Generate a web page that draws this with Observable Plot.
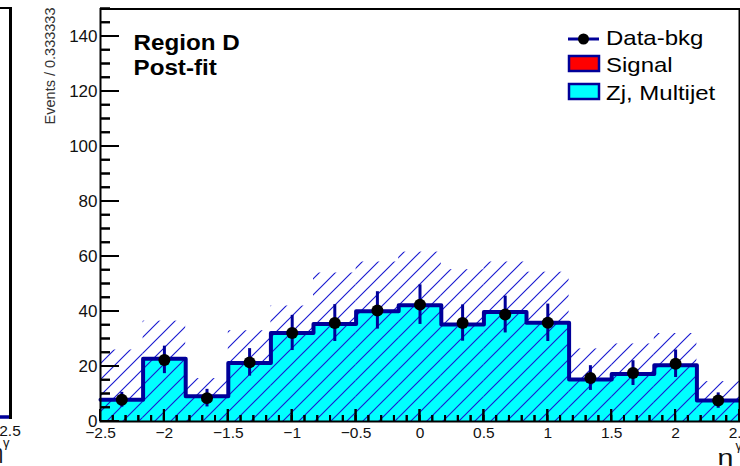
<!DOCTYPE html>
<html>
<head>
<meta charset="utf-8">
<script src="https://cdn.jsdelivr.net/npm/d3@7"></script>
<script src="https://cdn.jsdelivr.net/npm/@observablehq/plot@0.6"></script>
<style>
  html, body { margin: 0; padding: 0; background: #fff; }
  #wrap { position: relative; width: 740px; height: 466px; overflow: hidden; }
  #chart, #overlay { position: absolute; left: 0; top: 0; }
  #overlay { pointer-events: none; }
  text { font-family: "Liberation Sans", Arial, sans-serif; }
</style>
</head>
<body>
<div id="wrap">
  <div id="chart"></div>
  <svg id="overlay" width="740" height="466"></svg>
</div>
<script>
// eta^gamma histogram, 15 bins of width 1/3 between -2.5 and 2.5
const binLow = -2.5;
const binWidth = 1 / 3;

// stacked background (Zj, Multijet) and signal contributions per bin
const zjMultijet = [7.9, 22.8, 9.2, 21.3, 32.2, 35.5, 40.1, 42.3, 35.3, 39.8, 35.9, 15.3, 17.3, 20.5, 7.6];
const signalYield = [0, 0, 0, 0, 0, 0, 0, 0, 0, 0, 0, 0, 0, 0, 0];

// data minus background, with statistical errors
const dataBkg = [7.9, 22.4, 8.5, 21.5, 32.2, 35.8, 40.4, 42.5, 35.8, 38.9, 35.9, 15.8, 17.6, 21.0, 7.6];
const dataErr = [2.7, 5.0, 3.2, 5.0, 6.4, 6.7, 6.8, 7.2, 6.6, 6.7, 6.8, 4.5, 4.5, 5.0, 2.8];

// upper edge of the hatched post-fit uncertainty band
const uncUp = [26.0, 36.5, 15.6, 33.0, 42.0, 54.0, 58.0, 61.6, 55.2, 58.0, 54.3, 26.4, 28.2, 32.0, 14.5];

// axis ticks
const xMajor = [-2.5, -2, -1.5, -1, -0.5, 0, 0.5, 1, 1.5, 2, 2.5];
const xMinor = d3.range(-25, 26).map(i => i / 10);
const yMajor = [0, 20, 40, 60, 80, 100, 120, 140];
const yMinor = d3.range(0, 151, 5);

const legendItems = ["Data-bkg", "Signal", "Zj, Multijet"];

const navy = "#000099";
const W = 740, H = 466, mL = 100, mR = 1, mT = 8.5, mB = 45;
const innerW = W - mL - mR, innerH = H - mT - mB;
const xDom = [-2.5, 2.5], yDom = [0, 150];
// pixel lengths expressed in data units (tick sizes)
const pxX = px => px * (xDom[1] - xDom[0]) / innerW;
const pxY = px => px * (yDom[1] - yDom[0]) / innerH;

const bins = zjMultijet.map((v, i) => ({
  x1: binLow + i * binWidth,
  x2: binLow + (i + 1) * binWidth,
  xc: binLow + (i + 0.5) * binWidth,
  zj: v,
  stack: v + signalYield[i],
  data: dataBkg[i],
  err: dataErr[i],
  up: uncUp[i]
}));
const stepPts = bins.map(b => ({x: b.x1, y: b.stack}));
stepPts.push({x: bins[bins.length - 1].x2, y: bins[bins.length - 1].stack});

const minus = d => (d < 0 ? "\u2212" + Math.abs(d) : String(d));

// inward ticks as thin filled bars
const xTickBars = (vals, len) => Plot.rect(vals, {x1: d => d - pxX(1), x2: d => d + pxX(1), y1: yDom[0], y2: yDom[0] + pxY(len), fill: "black"});
const yTickBars = (vals, len) => Plot.rect(vals, {x1: xDom[0], x2: xDom[0] + pxX(len), y1: d => d - pxY(1), y2: d => d + pxY(1), fill: "black"});

const plot = Plot.plot({
  width: W,
  height: H,
  marginLeft: mL,
  marginRight: mR,
  marginTop: mT,
  marginBottom: mB,
  style: {fontFamily: "'Liberation Sans', Arial, sans-serif", color: "#111", background: "#fff"},
  x: {domain: xDom, axis: null},
  y: {domain: yDom, axis: null},
  marks: [
    Plot.rect(bins, {x1: "x1", x2: "x2", y1: 0, y2: "zj", fill: "#00ffff", shapeRendering: "crispEdges"}),
    Plot.rect(bins, {x1: "x1", x2: "x2", y1: "zj", y2: "stack", fill: "#ff0000"}),
    Plot.rect(bins, {x1: "x1", x2: "x2", y1: 0, y2: "up", fill: "url(#hatch)"}),
    Plot.line(stepPts, {x: "x", y: "y", curve: "step-after", stroke: navy, strokeWidth: 4}),
    Plot.ruleX(bins, {x: "xc", y1: d => d.data - d.err, y2: d => d.data + d.err, stroke: navy, strokeWidth: 3}),
    Plot.dot(bins, {x: "xc", y: "data", r: 6, fill: "black"}),
    xTickBars(xMinor, 6),
    xTickBars(xMajor, 12),
    yTickBars(yMinor, 10),
    yTickBars(yMajor, 19),
    // tick labels
    Plot.text(xMajor, {x: d => d, text: minus, frameAnchor: "bottom", dy: 11.2, lineAnchor: "middle", fontSize: 15.5, fill: "#111"}),
    Plot.text(yMajor, {y: d => d, text: d => String(d), frameAnchor: "left", dx: -3, textAnchor: "end", lineAnchor: "middle", fontSize: 17, fill: "#111"}),
    Plot.frame({stroke: "black", strokeWidth: 2}),
    // axis titles
    Plot.text(["Events / 0.333333"], {frameAnchor: "top-left", dx: -50, dy: -1.5, rotate: -90, textAnchor: "end", lineAnchor: "middle", fontSize: 14.5, fill: "#333"}),
    Plot.text(["\u03b7"], {frameAnchor: "bottom-right", dx: -6, dy: 36, textAnchor: "end", lineAnchor: "middle", fontSize: 22, fill: "#111", className: "eta"}),
    Plot.text(["\u03b3"], {frameAnchor: "bottom-right", dx: -4, dy: 24.8, textAnchor: "start", lineAnchor: "middle", fontSize: 13, fill: "#111"}),
    // region labels
    Plot.text(["Region D"], {frameAnchor: "top-left", dx: 33, dy: 34, textAnchor: "start", lineAnchor: "middle", fontSize: 22, fontWeight: "bold", fill: "#000", className: "wide"}),
    Plot.text(["Post-fit"], {frameAnchor: "top-left", dx: 33, dy: 58.5, textAnchor: "start", lineAnchor: "middle", fontSize: 22, fontWeight: "bold", fill: "#000", className: "wide"})
  ]
});

// broaden a few labels horizontally (wide sans face)
const widen = (sel, k) => d3.select(plot).selectAll(sel).each(function () {
  const t = this.getAttribute("transform") || "";
  this.setAttribute("transform", t + ` scale(${k},1)`);
});
widen(".wide text", 1.1);
widen(".eta text", 1.3);

// diagonal hatch used by the uncertainty band
const s = 16;
d3.select(plot).insert("defs", ":first-child")
  .append("pattern")
  .attr("id", "hatch")
  .attr("patternUnits", "userSpaceOnUse")
  .attr("width", s).attr("height", s)
  .append("path")
  .attr("d", `M0,${s} L${s},0 M${-s / 4},${s / 4} L${s / 4},${-s / 4} M${s - s / 4},${s + s / 4} L${s + s / 4},${s - s / 4}`)
  .attr("stroke", "#1a1ad0")
  .attr("stroke-width", 1.15)
  .attr("fill", "none");

document.getElementById("chart").appendChild(plot);

const ov = d3.select("#overlay");

// legend
const lg = ov.append("g").attr("transform", "translate(568,0)");
lg.append("line").attr("x1", 0).attr("x2", 31).attr("y1", 39).attr("y2", 39).attr("stroke", navy).attr("stroke-width", 3);
lg.append("circle").attr("cx", 15.5).attr("cy", 39).attr("r", 5.5).attr("fill", "black");
lg.append("rect").attr("x", 1).attr("y", 56).attr("width", 30).attr("height", 15).attr("fill", "#ff0000").attr("stroke", navy).attr("stroke-width", 2.5);
lg.append("rect").attr("x", 1).attr("y", 84).attr("width", 30).attr("height", 15).attr("fill", "#00ffff").attr("stroke", navy).attr("stroke-width", 2.5);
legendItems.forEach((t, i) => {
  lg.append("text")
    .attr("transform", `translate(38,${[45, 72, 100][i]}) scale(1.2,1)`)
    .attr("font-size", 20).attr("fill", "#000").text(t);
});

// edge of the neighbouring panel, plus the inward axis ticks placed with the plot's scales
const nb = ov.append("g");
nb.append("line").attr("x1", 0).attr("x2", 11.5).attr("y1", 8).attr("y2", 8).attr("stroke", "black").attr("stroke-width", 2);
nb.append("line").attr("x1", 0).attr("x2", 10).attr("y1", 417).attr("y2", 417).attr("stroke", navy).attr("stroke-width", 3.5);
nb.append("line").attr("x1", 10.5).attr("x2", 10.5).attr("y1", 7).attr("y2", 419).attr("stroke", "black").attr("stroke-width", 3);
nb.append("text").attr("x", 10).attr("y", 436).attr("text-anchor", "middle").attr("font-size", 15.5).attr("fill", "#111").text("2.5");
nb.append("text").attr("x", 3).attr("y", 459).attr("text-anchor", "end").attr("font-size", 20).attr("fill", "#111").text("\u03b7");
nb.append("text").attr("x", 3).attr("y", 447).attr("text-anchor", "start").attr("font-size", 13).attr("fill", "#111").text("\u03b3");

const sx = plot.scale("x"), sy = plot.scale("y");
const lin = (sc, dom, rng) => (sc && typeof sc.apply === "function" ? v => sc.apply(v) : d3.scaleLinear(dom, rng));
const toX = lin(sx, xDom, [mL, W - mR]);
const toY = lin(sy, yDom, [H - mB, mT]);
const base = +toY(yDom[0]), left = +toX(xDom[0]);
const tick = (x1, y1, x2, y2) => nb.append("line")
  .attr("x1", x1).attr("y1", y1).attr("x2", x2).attr("y2", y2)
  .attr("stroke", "black").attr("stroke-width", 2);
xMinor.forEach(v => tick(+toX(v), base, +toX(v), base - 6));
xMajor.forEach(v => tick(+toX(v), base, +toX(v), base - 12));
yMinor.forEach(v => tick(left, +toY(v), left + 10, +toY(v)));
yMajor.forEach(v => tick(left, +toY(v), left + 19, +toY(v)));
</script>
</body>
</html>
